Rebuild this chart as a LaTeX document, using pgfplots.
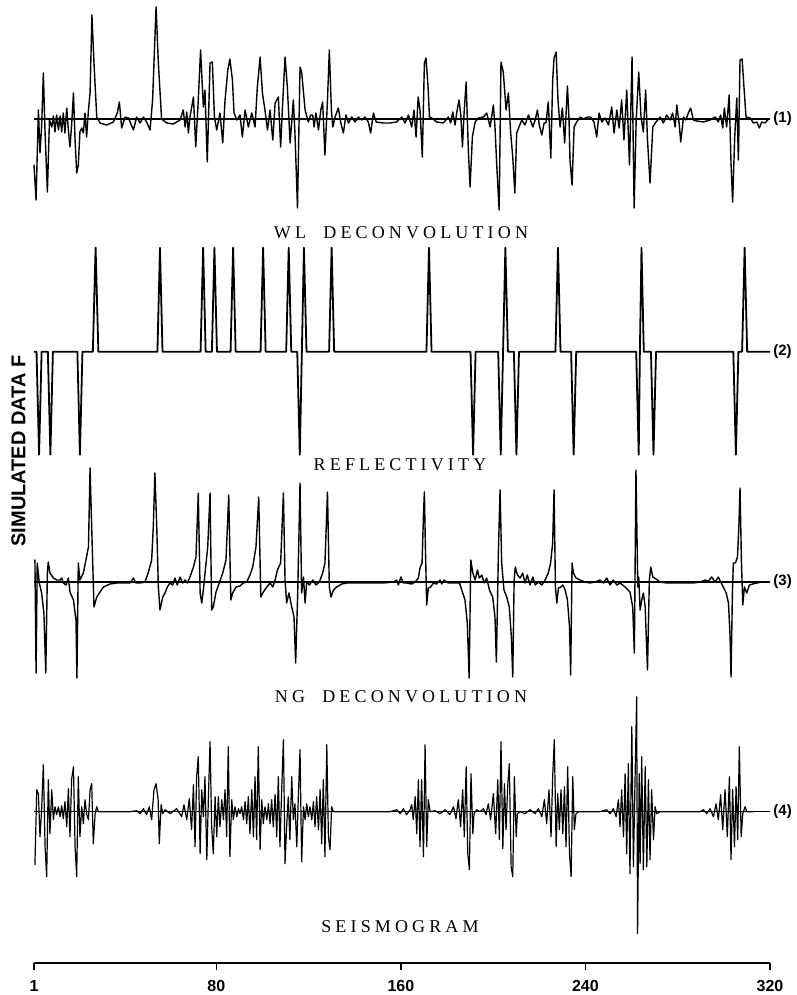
\documentclass[border=0pt]{standalone}
\usepackage{fontspec}
\setmainfont{Liberation Serif}
\setsansfont{Liberation Sans}
\newfontfamily\titlefont[LetterSpace=23]{Liberation Serif}
\usepackage{pgfplots}
\pgfplotsset{compat=1.18}
\pgfplotsset{trace/.style={scale only axis, width=368pt, height=130pt, xmin=1, xmax=320, ymin=-130, ymax=130, hide axis, clip=false, anchor=west}}
\tikzset{lab/.style={anchor=west, inner sep=1.5pt, font=\sffamily\bfseries\fontsize{7.5}{8}\selectfont},
  sig/.style={black, line width=0.7pt, line join=round, line cap=round}}
\begin{document}
\begin{tikzpicture}
\useasboundingbox (0,0) rectangle (398.5pt,-497.5pt);
% ---------- trace 1 : WL deconvolution
\begin{axis}[trace, at={(17pt,-59.5pt)}]
\addplot[black, line width=0.55pt] coordinates {(1,0)(320,0)};
\addplot[sig] coordinates {
(1.0,-46)(1.9,-81)(2.9,9)(3.6,-34)(4.3,-8)(5.05,46)(5.8,-14)(6.8,-73)(7.7,-1)(8.7,-8)(9.4,3)(10.1,-13)(10.8,4)(11.6,-11)(12.3,3)(13.0,-13)(13.7,6)(14.4,-14)(15.2,11)(15.9,-11)(16.6,-28)(17.3,-6)(18.1,26)(18.8,-21)(19.5,-54)(20.2,-46)(20.9,-13)(21.7,-9)(22.4,-14)(23.1,6)(23.8,-18)(24.6,9)(25.3,26)(26.1,104)(27.0,56)(28.2,2)(29.6,-4)(32.5,-6)(35.4,-3)(37.1,6)(38.0,17)(39.0,-9)(40.5,2)(41.9,1)(44.1,-11)(45.5,2)(47.0,-4)(48.4,2)(49.8,-3)(51.3,-11)(52.4,19)(53.9,112)(54.9,56)(56.3,0)(58.5,-4)(61.4,-5)(64.3,-1)(65.7,9)(66.5,-8)(67.2,7)(67.9,-14)(68.6,2)(70.1,22)(71.1,-28)(72.2,19)(73.2,69)(74.4,12)(75.1,29)(76.1,-43)(77.3,56)(78.3,57)(79.2,2)(80.2,-11)(81.6,6)(82.8,-24)(83.8,19)(85.0,49)(85.9,60)(87.0,39)(87.7,6)(88.9,-1)(90.3,4)(91.3,-18)(92.5,9)(93.9,-8)(95.4,6)(96.8,-8)(97.8,32)(99.0,62)(100.0,26)(101.1,9)(102.2,-11)(103.3,9)(104.5,-21)(105.5,16)(106.9,22)(107.9,-28)(108.7,12)(109.8,62)(110.8,32)(112.0,-24)(113.4,19)(114.1,-14)(115.2,-89)(116.3,52)(117.0,47)(118.5,9)(119.9,-3)(120.9,4)(121.8,4)(122.4,-8)(123.2,6)(124.3,-11)(125.3,9)(126.1,17)(127.1,-36)(128.2,19)(129.0,69)(129.9,9)(130.5,-8)(131.5,2)(132.9,11)(134.0,-4)(135.1,-14)(136.2,4)(137.3,-4)(138.7,2)(140.1,-3)(141.6,2)(143.0,-1)(144.5,2)(145.9,-3)(146.9,-14)(148.1,6)(149.3,-3)(152.4,-4)(155.3,-4)(158.2,-3)(160.4,2)(161.8,-4)(163.3,4)(164.7,-8)(165.7,9)(166.6,-18)(167.5,22)(168.3,9)(169.3,-38)(170.2,56)(170.9,61)(171.8,32)(172.4,2)(173.4,1)(175.5,-3)(178.4,-4)(180.6,2)(181.6,-4)(182.5,7)(183.5,-6)(184.2,6)(185.2,19)(186.0,4)(186.7,-28)(187.4,6)(188.3,37)(189.3,-34)(190.0,-68)(191.0,-18)(192.2,-3)(193.6,1)(195.8,2)(197.2,6)(198.7,-8)(200.1,14)(200.8,-8)(201.6,-48)(202.6,-91)(203.4,57)(204.4,47)(205.6,9)(206.6,26)(207.6,-14)(208.5,-38)(209.4,-74)(210.2,-14)(211.2,-8)(212.4,-1)(213.8,-6)(215.3,4)(216.0,0)(217.2,-8)(218.2,-1)(219.2,9)(220.0,-6)(221.1,-16)(222.1,-4)(222.9,-4)(223.9,17)(225.0,-39)(225.8,39)(226.4,61)(227.3,67)(228.1,19)(229.0,-8)(230.0,11)(231.0,-24)(232.2,33)(232.9,-1)(233.3,-41)(234.2,-66)(235.1,-8)(236.2,-3)(237.7,2)(239.1,0)(240.9,2)(242.3,2)(243.7,-3)(244.9,-18)(245.9,6)(247.1,-3)(248.5,1)(250.0,-6)(251.4,12)(252.4,-14)(253.6,9)(254.6,-9)(255.7,19)(256.7,-21)(257.9,29)(259.1,-46)(260.2,62)(261.1,-89)(262.0,-1)(263.1,47)(264.1,2)(265.1,-13)(266.1,29)(266.9,-21)(268.0,-64)(269.2,-8)(270.6,-3)(272.4,2)(273.8,-4)(275.2,4)(276.7,-1)(277.8,6)(278.9,-8)(279.6,14)(280.6,-4)(281.3,-23)(282.5,2)(283.5,-1)(284.6,6)(285.6,11)(286.8,-1)(288.2,-2)(291.1,-3)(294.0,-1)(296.2,2)(297.6,-3)(298.6,4)(299.5,-9)(300.2,11)(301.2,-8)(302.3,24)(303.1,-44)(303.8,-83)(304.7,-18)(305.6,21)(306.3,-41)(307.0,59)(307.9,60)(308.8,29)(309.6,2)(311.4,1)(312.8,-4)(314.3,-3)(315.4,-9)(316.4,-3)(317.9,-4)(318.9,-1)(319.7,0)
};
\node[lab] at (axis cs:320,0) {(1)};
\end{axis}
% ---------- trace 2 : reflectivity
\begin{axis}[trace, at={(17pt,-175.85pt)}]
\addplot[black, line width=0.9pt, line join=round] coordinates {
(1,0)(2.1,0)(3.2,-103)(4.3,0)(7.0,0)(8.1,-103)(9.2,0)(19.8,0)(20.9,-103)(22.0,0)(26.5,0)(27.7,104)(28.9,0)(54.5,0)(55.6,104)(56.7,0)(73.2,0)(74.3,104)(75.4,0)(78.1,0)(79.2,104)(80.3,0)(86.2,0)(87.3,104)(88.4,0)(99.2,0)(100.3,104)(101.4,0)(110.3,0)(111.4,104)(112.5,0)(115.1,0)(116.2,-103)(117.1,0)(118.0,104)(119.1,0)(128.9,0)(130.0,104)(131.1,0)(171.1,0)(172.2,104)(173.3,0)(190.2,0)(191.3,-103)(192.4,0)(202.2,0)(203.3,-103)(204.3,0)(205.3,104)(206.4,0)(209.0,0)(210.1,-103)(211.2,0)(227.0,0)(228.1,104)(229.2,0)(233.8,0)(234.9,-103)(236.0,0)(262.0,0)(263.1,-103)(263.6,0)(264.3,104)(265.3,0)(268.4,0)(269.5,-103)(270.6,0)(304.1,0)(305.2,-103)(306.3,0)(307.9,0)(309.0,104)(310.1,0)(320,0)
};
\node[lab] at (axis cs:320,0) {(2)};
\end{axis}
% ---------- trace 3 : NG deconvolution
\begin{axis}[trace, at={(17pt,-291pt)}]
\addplot[black, line width=0.55pt] coordinates {(1,0)(320,0)};
\addplot[sig] coordinates {
(1.4,22)(1.9,-91)(2.4,19)(3.3,-1)(4.3,-11)(5.3,-31)(6.1,-91)(6.8,9)(7.2,20)(7.9,9)(9.4,4)(10.8,2)(12.3,2)(13.0,4)(13.7,-1)(14.9,-3)(15.9,4)(16.6,-10)(18.1,-18)(19.2,-38)(19.6,-96)(20.2,19)(20.9,2)(22.4,9)(23.5,22)(24.6,35)(25.3,114)(26.0,55)(27.0,-25)(28.2,-15)(29.6,-10)(31.1,-5)(33.9,-2)(36.8,-1)(39.7,-1)(42.6,-1)(44.1,4)(45.2,-1)(47.0,-1)(49.1,0)(50.6,10)(52.0,22)(52.7,55)(53.4,109)(54.2,55)(54.9,-5)(55.6,-28)(56.8,-15)(57.8,-11)(58.8,-5)(59.9,-1)(61.1,-3)(62.1,4)(63.1,-3)(64.3,5)(65.4,-1)(66.5,2)(67.5,-1)(68.6,5)(70.1,15)(71.2,25)(72.2,89)(73.0,-11)(73.7,-21)(74.4,-8)(75.4,15)(76.3,35)(77.3,89)(78.0,-28)(78.7,-25)(79.9,-10)(81.3,-1)(82.8,9)(84.2,22)(85.4,87)(86.3,-18)(87.1,-11)(88.6,-5)(90.3,-4)(91.7,-1)(93.2,0)(94.6,7)(95.8,15)(97.2,35)(98.4,85)(99.3,-15)(100.4,-10)(101.9,-5)(103.3,-1)(104.5,-5)(105.5,2)(106.5,12)(107.9,19)(109.1,89)(109.8,2)(110.5,-21)(111.5,-11)(112.7,-25)(113.7,-35)(114.4,-81)(115.3,-11)(116.3,99)(117.0,-11)(117.8,5)(118.5,-21)(119.2,0)(120.4,-3)(121.8,2)(123.2,-3)(124.7,0)(126.1,9)(127.1,19)(128.2,90)(129.0,-5)(129.7,-15)(130.8,-8)(132.2,-5)(134.4,-2)(136.5,-1)(140.9,-1)(146.6,-1)(152.4,-1)(156.8,0)(158.2,2)(158.9,-3)(160.0,5)(161.1,-1)(162.5,-1)(164.7,-2)(166.2,0)(167.6,4)(168.3,14)(169.2,19)(169.8,67)(170.2,90)(170.6,39)(171.2,-23)(171.9,-6)(172.9,-5)(174.1,-1)(175.5,-2)(177.0,2)(177.7,-2)(178.7,2)(180.6,-1)(183.5,-1)(185.4,-1)(186.4,-8)(187.8,-18)(188.8,-41)(189.6,-96)(190.3,22)(191.2,9)(192.2,2)(193.2,12)(194.0,4)(195.1,7)(196.1,-1)(197.2,4)(198.4,-8)(199.8,-15)(200.8,-35)(201.4,-80)(202.3,32)(203.0,92)(203.7,19)(204.7,-8)(205.9,-15)(207.0,-25)(207.9,-55)(208.5,-95)(209.1,2)(209.6,15)(210.5,7)(211.7,4)(212.8,9)(213.8,-1)(214.8,7)(216.0,-3)(217.2,5)(218.2,-3)(219.6,0)(221.1,-3)(222.5,2)(223.9,9)(224.9,19)(225.8,39)(226.4,92)(227.0,-5)(227.6,-21)(228.3,-6)(229.3,-5)(230.2,-3)(231.2,-8)(232.2,-18)(233.1,-45)(233.6,-93)(234.2,19)(234.8,9)(235.9,4)(237.7,2)(239.8,0)(242.0,-1)(244.2,0)(246.3,2)(247.8,-1)(249.2,4)(250.7,-3)(252.1,2)(253.6,-3)(255.0,-1)(257.2,-5)(259.3,-10)(260.5,-25)(261.2,-71)(261.9,112)(262.7,-5)(263.1,5)(263.7,-28)(264.4,-18)(265.1,-11)(265.9,-25)(266.9,-88)(267.7,2)(268.3,15)(269.2,5)(270.6,3)(272.4,0)(275.2,-1)(279.6,-1)(283.9,-1)(286.8,-1)(289.7,0)(291.9,2)(293.3,1)(294.7,5)(296.2,0)(297.6,5)(299.1,-2)(301.0,-11)(302.0,-21)(302.7,-55)(303.1,-95)(303.7,-11)(304.1,19)(305.0,19)(305.9,25)(306.5,55)(307.0,94)(307.6,22)(308.2,-23)(308.9,-5)(309.9,-11)(311.1,-3)(312.5,-2)(314.3,-1)(316.4,0)(318.6,0)
};
\node[lab] at (axis cs:320,0) {(3)};
\end{axis}
% ---------- trace 4 : seismogram
\begin{axis}[trace, at={(17pt,-405.85pt)}]
\addplot[black, line width=0.55pt] coordinates {(1,0)(320,0)};
\addplot[sig, line width=0.6pt] coordinates {
(1.4,-53)(2.2,22)(2.9,18)(3.6,-25)(4.3,2)(5.05,47)(5.8,-35)(6.5,-65)(7.2,32)(7.9,-22)(8.7,22)(9.4,-8)(10.1,5)(10.8,-3)(11.6,5)(12.3,-5)(13.0,6)(13.7,-7)(14.4,10)(15.2,-15)(15.9,23)(16.6,-25)(17.3,32)(18.1,45)(18.8,-35)(19.5,-65)(20.2,35)(20.9,-25)(21.7,5)(22.4,-12)(23.1,12)(23.8,-2)(24.6,-8)(25.3,22)(26.0,28)(26.7,-32)(27.5,-2)(28.2,5)(28.9,0)(42.6,0)(45.5,1)(47.0,-2)(48.4,3)(49.8,-3)(51.0,5)(52.0,-8)(53.0,22)(53.9,28)(54.8,12)(55.3,-32)(56.1,7)(56.8,-2)(57.8,2)(60.0,-2)(62.8,3)(65.0,-5)(66.0,7)(67.2,-8)(68.3,13)(69.3,-18)(70.1,27)(70.8,-35)(71.5,35)(72.2,55)(73.0,-42)(73.7,22)(74.4,-5)(75.1,35)(75.9,-48)(76.6,15)(77.3,70)(78.0,-15)(78.7,-42)(79.5,15)(80.2,-25)(80.9,15)(81.6,-15)(82.4,12)(83.1,-8)(83.8,22)(84.5,-25)(85.2,65)(85.9,-45)(86.7,12)(87.4,-8)(88.1,5)(88.9,-5)(89.6,3)(90.3,-2)(91.0,5)(91.8,-8)(92.5,10)(93.2,-12)(93.9,15)(94.6,-22)(95.4,22)(96.1,-25)(96.8,35)(97.5,-28)(98.2,65)(99.0,-38)(99.7,12)(100.4,-12)(101.1,5)(101.9,-8)(102.6,8)(103.3,-12)(104.0,12)(104.7,-15)(105.5,17)(106.2,-25)(106.9,35)(107.6,-35)(108.4,25)(109.1,72)(109.8,-52)(110.5,-15)(111.2,15)(111.9,-28)(112.7,35)(113.4,-8)(114.1,8)(114.9,-35)(115.6,17)(116.3,62)(117.0,-50)(117.8,5)(118.5,-8)(119.2,8)(119.9,-5)(120.6,5)(121.4,-8)(122.1,10)(122.8,-15)(123.5,15)(124.3,-18)(125.0,22)(125.7,-32)(126.4,32)(127.1,-45)(127.9,67)(128.6,-25)(129.3,-38)(130.0,5)(130.8,0)(135.1,0)(143.8,0)(155.3,0)(158.2,2)(159.7,-2)(161.1,3)(162.5,-3)(164.0,2)(164.7,7)(165.4,-8)(166.2,15)(166.9,-22)(167.6,32)(168.3,-35)(169.0,32)(169.8,-45)(170.5,67)(171.2,-35)(171.9,12)(172.7,0)(174.8,1)(177.0,-2)(179.2,2)(181.3,-3)(182.8,5)(183.9,-7)(184.9,12)(185.9,-15)(186.8,22)(187.5,-25)(188.3,45)(189.0,-42)(189.7,-58)(190.4,38)(191.2,-22)(191.7,-2)(192.9,2)(194.3,0)(195.8,3)(196.9,-3)(197.9,8)(198.9,-8)(200.1,18)(201.1,-22)(202.0,32)(202.7,-28)(203.4,70)(204.2,-37)(204.9,28)(205.6,-18)(206.3,25)(207.0,48)(207.8,-55)(208.5,-65)(209.2,35)(210.0,-25)(210.5,-2)(211.7,0)(213.8,-2)(216.0,2)(218.2,-2)(219.6,3)(221.1,-5)(222.2,12)(223.2,-12)(224.2,22)(225.1,-25)(225.8,35)(226.5,72)(227.3,-35)(228.0,18)(228.7,-18)(229.4,22)(230.2,-22)(230.9,25)(231.6,-35)(232.3,45)(233.1,-42)(233.8,-65)(234.5,35)(235.2,-18)(235.9,-2)(237.0,0)(246.3,0)(249.2,2)(250.7,-2)(252.1,3)(253.3,-5)(254.3,12)(255.0,-15)(255.7,22)(256.5,-25)(257.2,38)(257.9,-42)(258.6,48)(259.3,-62)(260.1,85)(260.8,-55)(261.5,32)(262.2,115)(262.6,-122)(263.3,38)(263.7,-52)(264.4,55)(265.1,-58)(265.9,45)(266.6,-55)(267.3,32)(268.0,-48)(268.7,22)(269.5,-28)(270.2,5)(270.9,-2)(272.4,0)(289.7,0)(291.1,2)(292.6,-2)(294.0,3)(295.5,-5)(296.6,8)(297.6,-8)(298.6,17)(299.5,-18)(300.5,22)(301.5,-25)(302.4,35)(303.1,-48)(303.8,22)(304.6,-35)(305.3,25)(306.0,-28)(306.7,65)(307.5,-25)(308.2,-2)(309.2,5)(309.9,0)(312.8,0)
};
\node[lab] at (axis cs:320,0) {(4)};
\end{axis}
% ---------- bottom axis
\begin{axis}[scale only axis, width=368pt, height=20pt, xmin=1, xmax=320, ymin=0, ymax=1,
  at={(17pt,-481.5pt)}, anchor=south west, axis y line=none, axis x line*=bottom,
  x axis line style={-, line width=0.75pt}, xtick={1,80,160,240,320}, tick align=outside,
  major tick length=3.5pt, tick style={line width=0.7pt, black},
  xticklabel style={font=\sffamily\bfseries\fontsize{8}{9}\selectfont, yshift=-1.5pt},
  /pgf/number format/assume math mode=true]
\addplot[draw=none] coordinates {(1,0)(320,0)};
\end{axis}
% ---------- titles
\node[font=\titlefont\fontsize{9}{10}\selectfont] at (200.5pt,-116.5pt) {WL\ \ DECONVOLUTION};
\node[font=\titlefont\fontsize{9}{10}\selectfont] at (200pt,-232.5pt) {REFLECTIVITY};
\node[font=\titlefont\fontsize{9}{10}\selectfont] at (200.5pt,-348.5pt) {NG\ \ DECONVOLUTION};
\node[font=\titlefont\fontsize{9}{10}\selectfont] at (200pt,-463.5pt) {SEISMOGRAM};
\node[rotate=90, font=\sffamily\bfseries\fontsize{10}{11}\selectfont] at (9.25pt,-225.5pt) {SIMULATED DATA F};
\end{tikzpicture}
\end{document}
